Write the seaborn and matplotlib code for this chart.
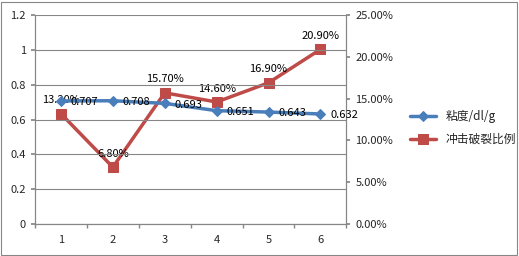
import numpy as np
import pandas as pd
import matplotlib
matplotlib.use("Agg")
import matplotlib.pyplot as plt
from matplotlib.ticker import FuncFormatter
import seaborn as sns

# data
x_cats = [1, 2, 3, 4, 5, 6]
viscosity = [0.707, 0.708, 0.693, 0.651, 0.643, 0.632]
impact_break = [13.20, 6.80, 15.70, 14.60, 16.90, 20.90]
visc_label = "粘度/dl/g"
break_label = "冲击破裂比例"

sns.set_theme(style="white")
plt.rcParams['font.family'] = ['Noto Sans CJK SC', 'DejaVu Sans']

blue = "#4A7EBB"
red = "#BE4B48"
grey = "#868686"
fs = 8

df = pd.DataFrame({"x": x_cats, "visc": viscosity, "brk": impact_break})

fig = plt.figure(figsize=(5.19, 2.56), dpi=100)
ax = fig.add_axes([0.0674, 0.125, 0.6, 0.816])
ax2 = ax.twinx()

sns.lineplot(data=df, x="x", y="visc", ax=ax, color=blue, lw=2.5,
             marker="D", markersize=5, markeredgecolor=blue, label=visc_label, legend=False)
sns.lineplot(data=df, x="x", y="brk", ax=ax2, color=red, lw=2.5,
             marker="s", markersize=6.5, markeredgecolor=red, label=break_label, legend=False)

ax.set_xlim(0.5, 6.5)
ax.set_ylim(0, 1.2)
ax.set_yticks(np.arange(0, 1.21, 0.2))
ax.set_yticklabels(["0", "0.2", "0.4", "0.6", "0.8", "1", "1.2"])
ax2.set_ylim(0, 25)
ax2.set_yticks(np.arange(0, 25.1, 5))
ax2.yaxis.set_major_formatter(FuncFormatter(lambda v, p: f"{v:.2f}%"))

ax.set_xticks(x_cats)
ax.set_xticks(np.arange(0.5, 6.6, 1), minor=True)
ax.tick_params(axis="x", which="major", length=0, labelsize=fs, pad=8)
ax.tick_params(axis="x", which="minor", length=3, color=grey, direction="out", bottom=True)
ax.tick_params(axis="y", length=3, color=grey, labelsize=fs, left=True, direction="out")
ax2.tick_params(axis="y", length=3, color=grey, labelsize=fs, right=True, direction="out")
ax.set_xlabel("")
ax.set_ylabel("")
ax2.set_ylabel("")

ax.grid(axis="y", color=grey, lw=0.8)
ax.set_axisbelow(True)
for a in (ax, ax2):
    a.spines["top"].set_visible(False)
    for s in ("left", "right", "bottom"):
        a.spines[s].set_color(grey)
        a.spines[s].set_linewidth(0.8)
ax.set_zorder(ax2.get_zorder() + 1)
ax.patch.set_visible(False)

for xi, v in zip(x_cats, viscosity):
    ax.annotate(f"{v:.3f}", (xi, v), xytext=(7, -1), textcoords="offset points",
                ha="left", va="center", fontsize=fs, color="black")
for xi, v in zip(x_cats, impact_break):
    ax2.annotate(f"{v:.2f}%", (xi, v), xytext=(0, 6), textcoords="offset points",
                 ha="center", va="bottom", fontsize=fs, color="black")

h1, l1 = ax.get_legend_handles_labels()
h2, l2 = ax2.get_legend_handles_labels()
fig.legend(h1 + h2, l1 + l2, loc="center left", bbox_to_anchor=(0.77, 0.5),
           frameon=False, fontsize=8.5, handlelength=2.2, labelspacing=0.8)

fig.patches.append(plt.Rectangle((0.002, 0.004), 0.995, 0.99, transform=fig.transFigure,
                                 fill=False, edgecolor=grey, lw=0.8))

fig.savefig("out.png", dpi=100)
